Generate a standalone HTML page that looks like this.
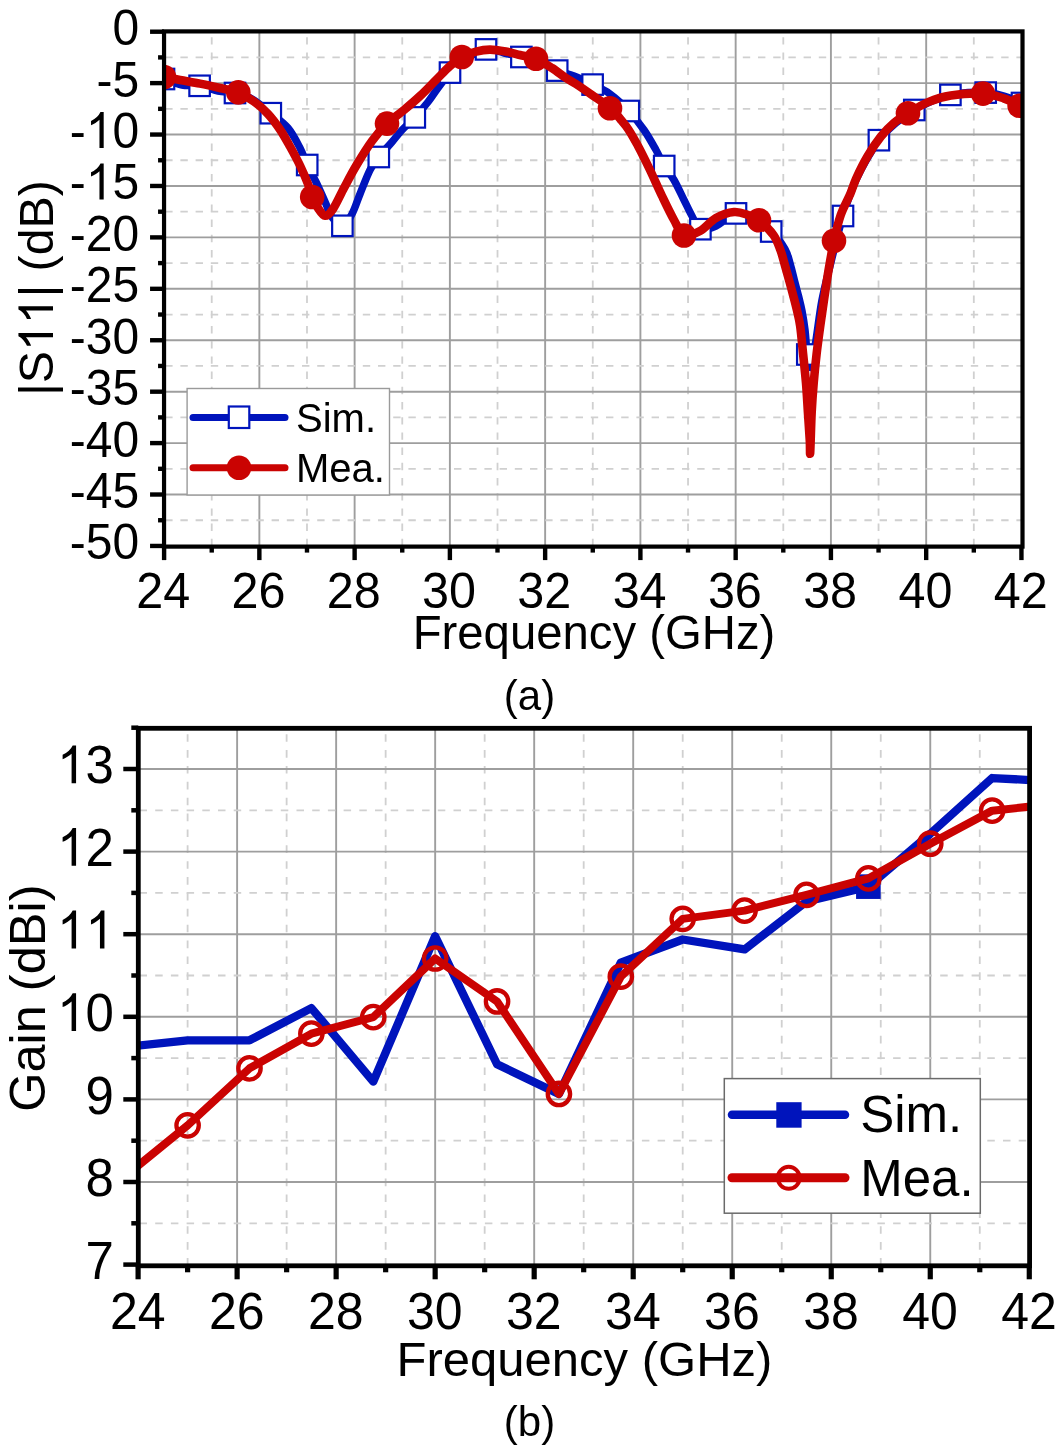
<!DOCTYPE html><html><head><meta charset="utf-8"><style>html,body{margin:0;padding:0;background:#fff;overflow:hidden;}svg{display:block;filter:blur(0.4px);}text{font-family:"Liberation Sans",sans-serif;}</style></head><body>
<svg width="1060" height="1452" viewBox="0 0 1060 1452">
<rect width="1060" height="1452" fill="#fff"/>
<defs><clipPath id="ca"><rect x="164.05" y="31.4" width="858.45" height="515.2"/></clipPath>
<clipPath id="cb"><rect x="138.3" y="728.3" width="891.3" height="537.5"/></clipPath></defs>
<line x1="211.73" y1="31.4" x2="211.73" y2="546.6" stroke="#d0d0d0" stroke-width="1.8" stroke-dasharray="7.4 7.8" stroke-dashoffset="9.4"/><line x1="259.36" y1="31.4" x2="259.36" y2="546.6" stroke="#9e9e9e" stroke-width="1.9"/><line x1="306.99" y1="31.4" x2="306.99" y2="546.6" stroke="#d0d0d0" stroke-width="1.8" stroke-dasharray="7.4 7.8" stroke-dashoffset="9.4"/><line x1="354.62" y1="31.4" x2="354.62" y2="546.6" stroke="#9e9e9e" stroke-width="1.9"/><line x1="402.25" y1="31.4" x2="402.25" y2="546.6" stroke="#d0d0d0" stroke-width="1.8" stroke-dasharray="7.4 7.8" stroke-dashoffset="9.4"/><line x1="449.88" y1="31.4" x2="449.88" y2="546.6" stroke="#9e9e9e" stroke-width="1.9"/><line x1="497.51" y1="31.4" x2="497.51" y2="546.6" stroke="#d0d0d0" stroke-width="1.8" stroke-dasharray="7.4 7.8" stroke-dashoffset="9.4"/><line x1="545.14" y1="31.4" x2="545.14" y2="546.6" stroke="#9e9e9e" stroke-width="1.9"/><line x1="592.77" y1="31.4" x2="592.77" y2="546.6" stroke="#d0d0d0" stroke-width="1.8" stroke-dasharray="7.4 7.8" stroke-dashoffset="9.4"/><line x1="640.4" y1="31.4" x2="640.4" y2="546.6" stroke="#9e9e9e" stroke-width="1.9"/><line x1="688.03" y1="31.4" x2="688.03" y2="546.6" stroke="#d0d0d0" stroke-width="1.8" stroke-dasharray="7.4 7.8" stroke-dashoffset="9.4"/><line x1="735.66" y1="31.4" x2="735.66" y2="546.6" stroke="#9e9e9e" stroke-width="1.9"/><line x1="783.29" y1="31.4" x2="783.29" y2="546.6" stroke="#d0d0d0" stroke-width="1.8" stroke-dasharray="7.4 7.8" stroke-dashoffset="9.4"/><line x1="830.92" y1="31.4" x2="830.92" y2="546.6" stroke="#9e9e9e" stroke-width="1.9"/><line x1="878.55" y1="31.4" x2="878.55" y2="546.6" stroke="#d0d0d0" stroke-width="1.8" stroke-dasharray="7.4 7.8" stroke-dashoffset="9.4"/><line x1="926.18" y1="31.4" x2="926.18" y2="546.6" stroke="#9e9e9e" stroke-width="1.9"/><line x1="973.81" y1="31.4" x2="973.81" y2="546.6" stroke="#d0d0d0" stroke-width="1.8" stroke-dasharray="7.4 7.8" stroke-dashoffset="9.4"/><line x1="164.05" y1="57.41" x2="1022.5" y2="57.41" stroke="#d0d0d0" stroke-width="1.8" stroke-dasharray="7.4 7.8" stroke-dashoffset="14.05"/><line x1="164.05" y1="83.12" x2="1022.5" y2="83.12" stroke="#9e9e9e" stroke-width="1.9"/><line x1="164.05" y1="108.84" x2="1022.5" y2="108.84" stroke="#d0d0d0" stroke-width="1.8" stroke-dasharray="7.4 7.8" stroke-dashoffset="14.05"/><line x1="164.05" y1="134.55" x2="1022.5" y2="134.55" stroke="#9e9e9e" stroke-width="1.9"/><line x1="164.05" y1="160.26" x2="1022.5" y2="160.26" stroke="#d0d0d0" stroke-width="1.8" stroke-dasharray="7.4 7.8" stroke-dashoffset="14.05"/><line x1="164.05" y1="185.97" x2="1022.5" y2="185.97" stroke="#9e9e9e" stroke-width="1.9"/><line x1="164.05" y1="211.69" x2="1022.5" y2="211.69" stroke="#d0d0d0" stroke-width="1.8" stroke-dasharray="7.4 7.8" stroke-dashoffset="14.05"/><line x1="164.05" y1="237.4" x2="1022.5" y2="237.4" stroke="#9e9e9e" stroke-width="1.9"/><line x1="164.05" y1="263.11" x2="1022.5" y2="263.11" stroke="#d0d0d0" stroke-width="1.8" stroke-dasharray="7.4 7.8" stroke-dashoffset="14.05"/><line x1="164.05" y1="288.82" x2="1022.5" y2="288.82" stroke="#9e9e9e" stroke-width="1.9"/><line x1="164.05" y1="314.54" x2="1022.5" y2="314.54" stroke="#d0d0d0" stroke-width="1.8" stroke-dasharray="7.4 7.8" stroke-dashoffset="14.05"/><line x1="164.05" y1="340.25" x2="1022.5" y2="340.25" stroke="#9e9e9e" stroke-width="1.9"/><line x1="164.05" y1="365.96" x2="1022.5" y2="365.96" stroke="#d0d0d0" stroke-width="1.8" stroke-dasharray="7.4 7.8" stroke-dashoffset="14.05"/><line x1="164.05" y1="391.68" x2="1022.5" y2="391.68" stroke="#9e9e9e" stroke-width="1.9"/><line x1="164.05" y1="417.39" x2="1022.5" y2="417.39" stroke="#d0d0d0" stroke-width="1.8" stroke-dasharray="7.4 7.8" stroke-dashoffset="14.05"/><line x1="164.05" y1="443.1" x2="1022.5" y2="443.1" stroke="#9e9e9e" stroke-width="1.9"/><line x1="164.05" y1="468.81" x2="1022.5" y2="468.81" stroke="#d0d0d0" stroke-width="1.8" stroke-dasharray="7.4 7.8" stroke-dashoffset="14.05"/><line x1="164.05" y1="494.52" x2="1022.5" y2="494.52" stroke="#9e9e9e" stroke-width="1.9"/><line x1="164.05" y1="520.24" x2="1022.5" y2="520.24" stroke="#d0d0d0" stroke-width="1.8" stroke-dasharray="7.4 7.8" stroke-dashoffset="14.05"/>
<g clip-path="url(#ca)">
<path d="M150,77.5 C152.33,77.75 158.67,77.75 164,79 C169.33,80.25 176.07,83.87 182,85 C187.93,86.13 193.6,84.8 199.6,85.8 C205.6,86.8 212.1,89.8 218,91 C223.9,92.2 229.33,91.67 235,93 C240.67,94.33 246.03,95.63 252,99 C257.97,102.37 264.8,108.37 270.8,113.2 C276.8,118.03 283.13,122.2 288,128 C292.87,133.8 296.8,141.83 300,148 C303.2,154.17 304.53,159.33 307.2,165 C309.87,170.67 312.87,175.5 316,182 C319.13,188.5 323.5,198.33 326,204 C328.5,209.67 328.27,212.37 331,216 C333.73,219.63 338.9,226.13 342.4,225.8 C345.9,225.47 349.07,219.3 352,214 C354.93,208.7 357,201.33 360,194 C363,186.67 366.87,176.17 370,170 C373.13,163.83 375.13,161.67 378.8,157 C382.47,152.33 388.13,146.5 392,142 C395.87,137.5 398.2,134.1 402,130 C405.8,125.9 410.47,122.07 414.8,117.4 C419.13,112.73 424.13,106.9 428,102 C431.87,97.1 434.33,92.9 438,88 C441.67,83.1 445.67,77.27 450,72.6 C454.33,67.93 458,63.87 464,60 C470,56.13 479.33,50.57 486,49.4 C492.67,48.23 498.1,51.73 504,53 C509.9,54.27 515.4,55.5 521.4,57 C527.4,58.5 534.03,59.73 540,62 C545.97,64.27 551.53,68.27 557.2,70.6 C562.87,72.93 568.1,73.67 574,76 C579.9,78.33 586.6,81.6 592.6,84.6 C598.6,87.6 603.97,89.6 610,94 C616.03,98.4 623.13,105 628.8,111 C634.47,117 639.47,123.5 644,130 C648.53,136.5 652.63,144 656,150 C659.37,156 661.2,161 664.2,166 C667.2,171 670.7,174.33 674,180 C677.3,185.67 681,194 684,200 C687,206 689.27,211.13 692,216 C694.73,220.87 696.4,227.53 700.4,229.2 C704.4,230.87 710.07,228.63 716,226 C721.93,223.37 730,214.4 736,213.4 C742,212.4 746.13,216.98 752,220 C757.87,223.02 765.7,226.67 771.2,231.5 C776.7,236.33 781.78,243.42 785,249 C788.22,254.58 788.92,259.73 790.5,265 C792.08,270.27 793.17,275.43 794.5,280.6 C795.83,285.77 797.25,290.93 798.5,296 C799.75,301.07 800.92,305.33 802,311 C803.08,316.67 804.12,322.75 805,330 C805.88,337.25 806.3,348.33 807.3,354.5 C808.3,360.67 809.55,369.42 811,367 C812.45,364.58 814.17,351.17 816,340 C817.83,328.83 819.5,313 822,300 C824.5,287 827.5,276 831,262 C834.5,248 838.83,229.67 843,216 C847.17,202.33 850.02,192.63 856,180 C861.98,167.37 872.23,149.7 878.9,140.2 C885.57,130.7 890.1,128.03 896,123 C901.9,117.97 908.3,113.67 914.3,110 C920.3,106.33 925.98,103.52 932,101 C938.02,98.48 944.4,96.32 950.4,94.9 C956.4,93.48 962.12,92.88 968,92.5 C973.88,92.12 979.7,92.02 985.7,92.6 C991.7,93.18 997.95,94.27 1004,96 C1010.05,97.73 1016.83,100.67 1022,103 C1027.17,105.33 1032.83,108.83 1035,110" fill="none" stroke="#0014bc" stroke-width="7.5" stroke-linejoin="round"/>
<rect x="153.75" y="68.75" width="20.5" height="20.5" fill="#fff" stroke="#0014bc" stroke-width="2.2"/>
<rect x="189.35" y="75.55" width="20.5" height="20.5" fill="#fff" stroke="#0014bc" stroke-width="2.2"/>
<rect x="224.75" y="82.75" width="20.5" height="20.5" fill="#fff" stroke="#0014bc" stroke-width="2.2"/>
<rect x="260.55" y="102.95" width="20.5" height="20.5" fill="#fff" stroke="#0014bc" stroke-width="2.2"/>
<rect x="296.95" y="154.75" width="20.5" height="20.5" fill="#fff" stroke="#0014bc" stroke-width="2.2"/>
<rect x="332.15" y="215.55" width="20.5" height="20.5" fill="#fff" stroke="#0014bc" stroke-width="2.2"/>
<rect x="368.55" y="146.75" width="20.5" height="20.5" fill="#fff" stroke="#0014bc" stroke-width="2.2"/>
<rect x="404.55" y="107.15" width="20.5" height="20.5" fill="#fff" stroke="#0014bc" stroke-width="2.2"/>
<rect x="439.75" y="62.35" width="20.5" height="20.5" fill="#fff" stroke="#0014bc" stroke-width="2.2"/>
<rect x="475.75" y="39.15" width="20.5" height="20.5" fill="#fff" stroke="#0014bc" stroke-width="2.2"/>
<rect x="511.15" y="46.75" width="20.5" height="20.5" fill="#fff" stroke="#0014bc" stroke-width="2.2"/>
<rect x="546.95" y="60.35" width="20.5" height="20.5" fill="#fff" stroke="#0014bc" stroke-width="2.2"/>
<rect x="582.35" y="74.35" width="20.5" height="20.5" fill="#fff" stroke="#0014bc" stroke-width="2.2"/>
<rect x="618.55" y="100.75" width="20.5" height="20.5" fill="#fff" stroke="#0014bc" stroke-width="2.2"/>
<rect x="653.95" y="155.75" width="20.5" height="20.5" fill="#fff" stroke="#0014bc" stroke-width="2.2"/>
<rect x="690.15" y="218.95" width="20.5" height="20.5" fill="#fff" stroke="#0014bc" stroke-width="2.2"/>
<rect x="725.75" y="203.15" width="20.5" height="20.5" fill="#fff" stroke="#0014bc" stroke-width="2.2"/>
<rect x="760.95" y="221.25" width="20.5" height="20.5" fill="#fff" stroke="#0014bc" stroke-width="2.2"/>
<rect x="797.05" y="344.25" width="20.5" height="20.5" fill="#fff" stroke="#0014bc" stroke-width="2.2"/>
<rect x="832.75" y="205.75" width="20.5" height="20.5" fill="#fff" stroke="#0014bc" stroke-width="2.2"/>
<rect x="868.65" y="129.95" width="20.5" height="20.5" fill="#fff" stroke="#0014bc" stroke-width="2.2"/>
<rect x="904.05" y="99.75" width="20.5" height="20.5" fill="#fff" stroke="#0014bc" stroke-width="2.2"/>
<rect x="940.15" y="84.65" width="20.5" height="20.5" fill="#fff" stroke="#0014bc" stroke-width="2.2"/>
<rect x="975.45" y="82.35" width="20.5" height="20.5" fill="#fff" stroke="#0014bc" stroke-width="2.2"/>
<rect x="1011.75" y="92.75" width="20.5" height="20.5" fill="#fff" stroke="#0014bc" stroke-width="2.2"/>
<path d="M150,74.5 C152.33,74.88 159,75.88 164,76.8 C169,77.72 174,78.87 180,80 C186,81.13 193.33,82.27 200,83.6 C206.67,84.93 213.67,86.53 220,88 C226.33,89.47 232.33,90.15 238,92.4 C243.67,94.65 249,97.9 254,101.5 C259,105.1 263.67,109.33 268,114 C272.33,118.67 276.33,124.08 280,129.5 C283.67,134.92 286.67,140.5 290,146.5 C293.33,152.5 297,159.25 300,165.5 C303,171.75 305.93,178.75 308,184 C310.07,189.25 310.73,193 312.4,197 C314.07,201 315.9,204.87 318,208 C320.1,211.13 322.5,215.63 325,215.8 C327.5,215.97 329.83,213.63 333,209 C336.17,204.37 340.17,195.17 344,188 C347.83,180.83 351.33,173.83 356,166 C360.67,158.17 366.83,148.07 372,141 C377.17,133.93 381.67,128.77 387,123.6 C392.33,118.43 398.5,114.6 404,110 C409.5,105.4 414.67,101 420,96 C425.33,91 431,85 436,80 C441,75 445.67,69.83 450,66 C454.33,62.17 457.67,59.4 462,57 C466.33,54.6 471.33,52.83 476,51.6 C480.67,50.37 485,49.6 490,49.6 C495,49.6 501,50.7 506,51.6 C511,52.5 515,53.77 520,55 C525,56.23 530.67,56.83 536,59 C541.33,61.17 547,64.83 552,68 C557,71.17 562,75.33 566,78 C570,80.67 571.67,81.17 576,84 C580.33,86.83 586.33,91 592,95 C597.67,99 604.33,102.83 610,108 C615.67,113.17 621.33,119.67 626,126 C630.67,132.33 634,138.67 638,146 C642,153.33 646,161.67 650,170 C654,178.33 658,187.67 662,196 C666,204.33 670.33,213.5 674,220 C677.67,226.5 679.67,233.17 684,235 C688.33,236.83 694.67,233.83 700,231 C705.33,228.17 710.33,221.17 716,218 C721.67,214.83 728.67,212.5 734,212 C739.33,211.5 743.83,213.58 748,215 C752.17,216.42 754.73,217.13 759,220.5 C763.27,223.87 770.02,230.23 773.6,235.2 C777.18,240.17 778.6,245.25 780.5,250.3 C782.4,255.35 783.55,260.45 785,265.5 C786.45,270.55 787.82,275.55 789.2,280.6 C790.58,285.65 791.98,290.75 793.3,295.8 C794.62,300.85 795.95,305.85 797.1,310.9 C798.25,315.95 799.2,318.92 800.2,326.1 C801.2,333.28 802.13,344.52 803.1,354 C804.07,363.48 805.2,373.35 806,383 C806.8,392.65 807.27,402.27 807.9,411.9 C808.53,421.53 809.42,434.05 809.8,440.8 C810.18,447.55 809.88,457.22 810.2,452.4 C810.52,447.58 811.12,423.47 811.7,411.9 C812.28,400.33 812.88,392.65 813.7,383 C814.52,373.35 815.48,363.67 816.6,354 C817.72,344.33 819.12,334.33 820.4,325 C821.68,315.67 823.02,306.67 824.3,298 C825.58,289.33 826.5,282.48 828.1,273 C829.7,263.52 831.8,250.75 833.9,241.1 C836,231.45 837.97,222.97 840.7,215.1 C843.43,207.23 847.68,200.08 850.3,193.9 C852.92,187.72 853.5,184.32 856.4,178 C859.3,171.68 863.62,162.92 867.7,156 C871.78,149.08 876.48,142.03 880.9,136.5 C885.32,130.97 889.73,126.65 894.2,122.8 C898.67,118.95 902.05,116.85 907.7,113.4 C913.35,109.95 920.92,105.08 928.1,102.1 C935.28,99.12 941.68,96.92 950.8,95.5 C959.92,94.08 974,93.13 982.8,93.6 C991.6,94.07 997.47,96.27 1003.6,98.3 C1009.73,100.33 1014.37,103.02 1019.6,105.8 C1024.83,108.58 1032.43,113.47 1035,115" fill="none" stroke="#ca0302" stroke-width="8.6" stroke-linejoin="round" stroke-linecap="round"/>
<circle cx="164" cy="77" r="12.3" fill="#ca0302"/>
<circle cx="238.3" cy="92.4" r="12.3" fill="#ca0302"/>
<circle cx="312.2" cy="197" r="12.3" fill="#ca0302"/>
<circle cx="387" cy="123.6" r="12.3" fill="#ca0302"/>
<circle cx="461.8" cy="57" r="12.3" fill="#ca0302"/>
<circle cx="536" cy="58.8" r="12.3" fill="#ca0302"/>
<circle cx="610" cy="108.3" r="12.3" fill="#ca0302"/>
<circle cx="684" cy="235.5" r="12.3" fill="#ca0302"/>
<circle cx="759" cy="220.2" r="12.3" fill="#ca0302"/>
<circle cx="834" cy="240.8" r="12.3" fill="#ca0302"/>
<circle cx="908" cy="113.2" r="12.3" fill="#ca0302"/>
<circle cx="983" cy="93.6" r="12.3" fill="#ca0302"/>
<circle cx="1019.6" cy="105.8" r="12.3" fill="#ca0302"/>
</g>
<rect x="187.1" y="388.5" width="202.4" height="106.5" fill="#fff" stroke="#9a9a9a" stroke-width="1.4"/>
<line x1="193" y1="417.5" x2="285" y2="417.5" stroke="#0014bc" stroke-width="7" stroke-linecap="round"/>
<rect x="228.8" y="406.5" width="20.5" height="21.5" fill="#fff" stroke="#0014bc" stroke-width="2.2"/>
<line x1="193" y1="467.8" x2="285" y2="467.8" stroke="#ca0302" stroke-width="7" stroke-linecap="round"/>
<circle cx="239" cy="467.8" r="12.3" fill="#ca0302"/>
<text x="296" y="431.8" font-family="Liberation Sans, sans-serif" font-size="40" fill="#000">Sim.</text>
<text x="296" y="482.3" font-family="Liberation Sans, sans-serif" font-size="40" fill="#000">Mea.</text>
<rect x="164.05" y="31.4" width="858.45" height="515.2" fill="none" stroke="#000" stroke-width="4.2"/><line x1="150.05" y1="31.7" x2="164.05" y2="31.7" stroke="#000" stroke-width="4.4"/><line x1="158.05" y1="57.41" x2="164.05" y2="57.41" stroke="#000" stroke-width="4.4"/><line x1="150.05" y1="83.12" x2="164.05" y2="83.12" stroke="#000" stroke-width="4.4"/><line x1="158.05" y1="108.84" x2="164.05" y2="108.84" stroke="#000" stroke-width="4.4"/><line x1="150.05" y1="134.55" x2="164.05" y2="134.55" stroke="#000" stroke-width="4.4"/><line x1="158.05" y1="160.26" x2="164.05" y2="160.26" stroke="#000" stroke-width="4.4"/><line x1="150.05" y1="185.97" x2="164.05" y2="185.97" stroke="#000" stroke-width="4.4"/><line x1="158.05" y1="211.69" x2="164.05" y2="211.69" stroke="#000" stroke-width="4.4"/><line x1="150.05" y1="237.4" x2="164.05" y2="237.4" stroke="#000" stroke-width="4.4"/><line x1="158.05" y1="263.11" x2="164.05" y2="263.11" stroke="#000" stroke-width="4.4"/><line x1="150.05" y1="288.82" x2="164.05" y2="288.82" stroke="#000" stroke-width="4.4"/><line x1="158.05" y1="314.54" x2="164.05" y2="314.54" stroke="#000" stroke-width="4.4"/><line x1="150.05" y1="340.25" x2="164.05" y2="340.25" stroke="#000" stroke-width="4.4"/><line x1="158.05" y1="365.96" x2="164.05" y2="365.96" stroke="#000" stroke-width="4.4"/><line x1="150.05" y1="391.68" x2="164.05" y2="391.68" stroke="#000" stroke-width="4.4"/><line x1="158.05" y1="417.39" x2="164.05" y2="417.39" stroke="#000" stroke-width="4.4"/><line x1="150.05" y1="443.1" x2="164.05" y2="443.1" stroke="#000" stroke-width="4.4"/><line x1="158.05" y1="468.81" x2="164.05" y2="468.81" stroke="#000" stroke-width="4.4"/><line x1="150.05" y1="494.52" x2="164.05" y2="494.52" stroke="#000" stroke-width="4.4"/><line x1="158.05" y1="520.24" x2="164.05" y2="520.24" stroke="#000" stroke-width="4.4"/><line x1="150.05" y1="545.95" x2="164.05" y2="545.95" stroke="#000" stroke-width="4.4"/><line x1="164.1" y1="546.6" x2="164.1" y2="560.1" stroke="#000" stroke-width="4.4"/><line x1="211.73" y1="546.6" x2="211.73" y2="552.6" stroke="#000" stroke-width="4.4"/><line x1="259.36" y1="546.6" x2="259.36" y2="560.1" stroke="#000" stroke-width="4.4"/><line x1="306.99" y1="546.6" x2="306.99" y2="552.6" stroke="#000" stroke-width="4.4"/><line x1="354.62" y1="546.6" x2="354.62" y2="560.1" stroke="#000" stroke-width="4.4"/><line x1="402.25" y1="546.6" x2="402.25" y2="552.6" stroke="#000" stroke-width="4.4"/><line x1="449.88" y1="546.6" x2="449.88" y2="560.1" stroke="#000" stroke-width="4.4"/><line x1="497.51" y1="546.6" x2="497.51" y2="552.6" stroke="#000" stroke-width="4.4"/><line x1="545.14" y1="546.6" x2="545.14" y2="560.1" stroke="#000" stroke-width="4.4"/><line x1="592.77" y1="546.6" x2="592.77" y2="552.6" stroke="#000" stroke-width="4.4"/><line x1="640.4" y1="546.6" x2="640.4" y2="560.1" stroke="#000" stroke-width="4.4"/><line x1="688.03" y1="546.6" x2="688.03" y2="552.6" stroke="#000" stroke-width="4.4"/><line x1="735.66" y1="546.6" x2="735.66" y2="560.1" stroke="#000" stroke-width="4.4"/><line x1="783.29" y1="546.6" x2="783.29" y2="552.6" stroke="#000" stroke-width="4.4"/><line x1="830.92" y1="546.6" x2="830.92" y2="560.1" stroke="#000" stroke-width="4.4"/><line x1="878.55" y1="546.6" x2="878.55" y2="552.6" stroke="#000" stroke-width="4.4"/><line x1="926.18" y1="546.6" x2="926.18" y2="560.1" stroke="#000" stroke-width="4.4"/><line x1="973.81" y1="546.6" x2="973.81" y2="552.6" stroke="#000" stroke-width="4.4"/><line x1="1021.44" y1="546.6" x2="1021.44" y2="560.1" stroke="#000" stroke-width="4.4"/>
<g transform="translate(112.5,45.1) scale(1,1.045)"><text x="0" y="0" font-family="Liberation Sans, sans-serif" font-size="48" fill="#000">0</text></g><g transform="translate(96.52,96.53) scale(1,1.045)"><text x="0" y="0" font-family="Liberation Sans, sans-serif" font-size="48" fill="#000">-5</text></g><g transform="translate(69.82,147.95) scale(1,1.045)"><text x="0" y="0" font-family="Liberation Sans, sans-serif" font-size="48" fill="#000">-</text><path transform="translate(15.98,0) scale(48)" d="M0.3726,0 L0.2847,0 L0.2847,-0.5601 Q0.2529,-0.5298 0.2014,-0.4995 Q0.1499,-0.4692 0.1089,-0.4541 L0.1089,-0.5391 Q0.1826,-0.5737 0.2305,-0.6167 Q0.2783,-0.6597 0.3062,-0.7158 L0.3726,-0.7158 Z" fill="#000"/><text x="42.68" y="0" font-family="Liberation Sans, sans-serif" font-size="48" fill="#000">0</text></g><g transform="translate(69.82,199.38) scale(1,1.045)"><text x="0" y="0" font-family="Liberation Sans, sans-serif" font-size="48" fill="#000">-</text><path transform="translate(15.98,0) scale(48)" d="M0.3726,0 L0.2847,0 L0.2847,-0.5601 Q0.2529,-0.5298 0.2014,-0.4995 Q0.1499,-0.4692 0.1089,-0.4541 L0.1089,-0.5391 Q0.1826,-0.5737 0.2305,-0.6167 Q0.2783,-0.6597 0.3062,-0.7158 L0.3726,-0.7158 Z" fill="#000"/><text x="42.68" y="0" font-family="Liberation Sans, sans-serif" font-size="48" fill="#000">5</text></g><g transform="translate(69.82,250.8) scale(1,1.045)"><text x="0" y="0" font-family="Liberation Sans, sans-serif" font-size="48" fill="#000">-20</text></g><g transform="translate(69.82,302.22) scale(1,1.045)"><text x="0" y="0" font-family="Liberation Sans, sans-serif" font-size="48" fill="#000">-25</text></g><g transform="translate(69.82,353.65) scale(1,1.045)"><text x="0" y="0" font-family="Liberation Sans, sans-serif" font-size="48" fill="#000">-30</text></g><g transform="translate(69.82,405.07) scale(1,1.045)"><text x="0" y="0" font-family="Liberation Sans, sans-serif" font-size="48" fill="#000">-35</text></g><g transform="translate(69.82,456.5) scale(1,1.045)"><text x="0" y="0" font-family="Liberation Sans, sans-serif" font-size="48" fill="#000">-40</text></g><g transform="translate(69.82,507.92) scale(1,1.045)"><text x="0" y="0" font-family="Liberation Sans, sans-serif" font-size="48" fill="#000">-45</text></g><g transform="translate(69.82,559.35) scale(1,1.045)"><text x="0" y="0" font-family="Liberation Sans, sans-serif" font-size="48" fill="#000">-50</text></g><g transform="translate(136.33,607.6) scale(1,1.045)"><text x="0" y="0" font-family="Liberation Sans, sans-serif" font-size="48.5" fill="#000">24</text></g><g transform="translate(231.59,607.6) scale(1,1.045)"><text x="0" y="0" font-family="Liberation Sans, sans-serif" font-size="48.5" fill="#000">26</text></g><g transform="translate(326.85,607.6) scale(1,1.045)"><text x="0" y="0" font-family="Liberation Sans, sans-serif" font-size="48.5" fill="#000">28</text></g><g transform="translate(422.11,607.6) scale(1,1.045)"><text x="0" y="0" font-family="Liberation Sans, sans-serif" font-size="48.5" fill="#000">30</text></g><g transform="translate(517.37,607.6) scale(1,1.045)"><text x="0" y="0" font-family="Liberation Sans, sans-serif" font-size="48.5" fill="#000">32</text></g><g transform="translate(612.63,607.6) scale(1,1.045)"><text x="0" y="0" font-family="Liberation Sans, sans-serif" font-size="48.5" fill="#000">34</text></g><g transform="translate(707.89,607.6) scale(1,1.045)"><text x="0" y="0" font-family="Liberation Sans, sans-serif" font-size="48.5" fill="#000">36</text></g><g transform="translate(803.15,607.6) scale(1,1.045)"><text x="0" y="0" font-family="Liberation Sans, sans-serif" font-size="48.5" fill="#000">38</text></g><g transform="translate(898.41,607.6) scale(1,1.045)"><text x="0" y="0" font-family="Liberation Sans, sans-serif" font-size="48.5" fill="#000">40</text></g><g transform="translate(993.67,607.6) scale(1,1.045)"><text x="0" y="0" font-family="Liberation Sans, sans-serif" font-size="48.5" fill="#000">42</text></g>
<text x="594" y="649.2" font-family="Liberation Sans, sans-serif" font-size="47.3" text-anchor="middle" fill="#000">Frequency (GHz)</text>
<g transform="translate(53,288) rotate(-90)"><text x="-107.85" y="0" font-family="Liberation Sans, sans-serif" font-size="48.3" fill="#000">|S&#8199;&#8199;| (dB)</text><path transform="translate(-63.09,0) scale(48.3)" d="M0.3726,0 L0.2847,0 L0.2847,-0.5601 Q0.2529,-0.5298 0.2014,-0.4995 Q0.1499,-0.4692 0.1089,-0.4541 L0.1089,-0.5391 Q0.1826,-0.5737 0.2305,-0.6167 Q0.2783,-0.6597 0.3062,-0.7158 L0.3726,-0.7158 Z" fill="#000"/><path transform="translate(-36.22,0) scale(48.3)" d="M0.3726,0 L0.2847,0 L0.2847,-0.5601 Q0.2529,-0.5298 0.2014,-0.4995 Q0.1499,-0.4692 0.1089,-0.4541 L0.1089,-0.5391 Q0.1826,-0.5737 0.2305,-0.6167 Q0.2783,-0.6597 0.3062,-0.7158 L0.3726,-0.7158 Z" fill="#000"/></g>
<text x="529.5" y="709.5" font-family="Liberation Sans, sans-serif" font-size="42" text-anchor="middle" fill="#000">(a)</text>
<line x1="187.61" y1="728.3" x2="187.61" y2="1265.8" stroke="#d0d0d0" stroke-width="1.8" stroke-dasharray="7.6 8.27" stroke-dashoffset="9.92"/><line x1="237.12" y1="728.3" x2="237.12" y2="1265.8" stroke="#9e9e9e" stroke-width="1.9"/><line x1="286.63" y1="728.3" x2="286.63" y2="1265.8" stroke="#d0d0d0" stroke-width="1.8" stroke-dasharray="7.6 8.27" stroke-dashoffset="9.92"/><line x1="336.14" y1="728.3" x2="336.14" y2="1265.8" stroke="#9e9e9e" stroke-width="1.9"/><line x1="385.65" y1="728.3" x2="385.65" y2="1265.8" stroke="#d0d0d0" stroke-width="1.8" stroke-dasharray="7.6 8.27" stroke-dashoffset="9.92"/><line x1="435.16" y1="728.3" x2="435.16" y2="1265.8" stroke="#9e9e9e" stroke-width="1.9"/><line x1="484.67" y1="728.3" x2="484.67" y2="1265.8" stroke="#d0d0d0" stroke-width="1.8" stroke-dasharray="7.6 8.27" stroke-dashoffset="9.92"/><line x1="534.18" y1="728.3" x2="534.18" y2="1265.8" stroke="#9e9e9e" stroke-width="1.9"/><line x1="583.69" y1="728.3" x2="583.69" y2="1265.8" stroke="#d0d0d0" stroke-width="1.8" stroke-dasharray="7.6 8.27" stroke-dashoffset="9.92"/><line x1="633.2" y1="728.3" x2="633.2" y2="1265.8" stroke="#9e9e9e" stroke-width="1.9"/><line x1="682.71" y1="728.3" x2="682.71" y2="1265.8" stroke="#d0d0d0" stroke-width="1.8" stroke-dasharray="7.6 8.27" stroke-dashoffset="9.92"/><line x1="732.22" y1="728.3" x2="732.22" y2="1265.8" stroke="#9e9e9e" stroke-width="1.9"/><line x1="781.73" y1="728.3" x2="781.73" y2="1265.8" stroke="#d0d0d0" stroke-width="1.8" stroke-dasharray="7.6 8.27" stroke-dashoffset="9.92"/><line x1="831.24" y1="728.3" x2="831.24" y2="1265.8" stroke="#9e9e9e" stroke-width="1.9"/><line x1="880.75" y1="728.3" x2="880.75" y2="1265.8" stroke="#d0d0d0" stroke-width="1.8" stroke-dasharray="7.6 8.27" stroke-dashoffset="9.92"/><line x1="930.26" y1="728.3" x2="930.26" y2="1265.8" stroke="#9e9e9e" stroke-width="1.9"/><line x1="979.77" y1="728.3" x2="979.77" y2="1265.8" stroke="#d0d0d0" stroke-width="1.8" stroke-dasharray="7.6 8.27" stroke-dashoffset="9.92"/><line x1="138.3" y1="1223.3" x2="1029.6" y2="1223.3" stroke="#d0d0d0" stroke-width="1.8" stroke-dasharray="7.5 8.2" stroke-dashoffset="14.5"/><line x1="138.3" y1="1182" x2="1029.6" y2="1182" stroke="#9e9e9e" stroke-width="1.9"/><line x1="138.3" y1="1140.7" x2="1029.6" y2="1140.7" stroke="#d0d0d0" stroke-width="1.8" stroke-dasharray="7.5 8.2" stroke-dashoffset="14.5"/><line x1="138.3" y1="1099.4" x2="1029.6" y2="1099.4" stroke="#9e9e9e" stroke-width="1.9"/><line x1="138.3" y1="1058.1" x2="1029.6" y2="1058.1" stroke="#d0d0d0" stroke-width="1.8" stroke-dasharray="7.5 8.2" stroke-dashoffset="14.5"/><line x1="138.3" y1="1016.8" x2="1029.6" y2="1016.8" stroke="#9e9e9e" stroke-width="1.9"/><line x1="138.3" y1="975.5" x2="1029.6" y2="975.5" stroke="#d0d0d0" stroke-width="1.8" stroke-dasharray="7.5 8.2" stroke-dashoffset="14.5"/><line x1="138.3" y1="934.2" x2="1029.6" y2="934.2" stroke="#9e9e9e" stroke-width="1.9"/><line x1="138.3" y1="892.9" x2="1029.6" y2="892.9" stroke="#d0d0d0" stroke-width="1.8" stroke-dasharray="7.5 8.2" stroke-dashoffset="14.5"/><line x1="138.3" y1="851.6" x2="1029.6" y2="851.6" stroke="#9e9e9e" stroke-width="1.9"/><line x1="138.3" y1="810.3" x2="1029.6" y2="810.3" stroke="#d0d0d0" stroke-width="1.8" stroke-dasharray="7.5 8.2" stroke-dashoffset="14.5"/><line x1="138.3" y1="769" x2="1029.6" y2="769" stroke="#9e9e9e" stroke-width="1.9"/>
<g clip-path="url(#cb)">
<path d="M125.72,1046.88 L187.61,1040.28 L249.5,1040.28 L311.38,1008.06 L373.27,1081.58 L435.16,936.2 L497.05,1064.23 L558.93,1093.97 L620.82,962.63 L682.71,939.5 L744.6,949.42 L806.49,901.51 L868.37,886.64 L930.26,833.78 L992.15,778.02 L1054.03,781.33" fill="none" stroke="#0014bc" stroke-width="8.3" stroke-linejoin="round"/>
<rect x="856.07" y="874.34" width="24.6" height="24.6" fill="#0014bc"/>
<path d="M125.72,1175.74 L187.61,1125.35 L249.5,1068.36 L311.38,1033.67 L373.27,1017.15 L435.16,958.5 L497.05,1001.45 L558.93,1093.97 L620.82,976.67 L682.71,918.85 L744.6,910.59 L806.49,894.9 L868.37,878.38 L930.26,843.69 L992.15,810.65 L1054.03,804.04" fill="none" stroke="#ca0302" stroke-width="8" stroke-linejoin="round"/>
<circle cx="187.61" cy="1125.35" r="11.2" fill="none" stroke="#ca0302" stroke-width="4.3"/>
<circle cx="249.5" cy="1068.36" r="11.2" fill="none" stroke="#ca0302" stroke-width="4.3"/>
<circle cx="311.38" cy="1033.67" r="11.2" fill="none" stroke="#ca0302" stroke-width="4.3"/>
<circle cx="373.27" cy="1017.15" r="11.2" fill="none" stroke="#ca0302" stroke-width="4.3"/>
<circle cx="435.16" cy="958.5" r="11.2" fill="none" stroke="#ca0302" stroke-width="4.3"/>
<circle cx="497.05" cy="1001.45" r="11.2" fill="none" stroke="#ca0302" stroke-width="4.3"/>
<circle cx="558.93" cy="1093.97" r="11.2" fill="none" stroke="#ca0302" stroke-width="4.3"/>
<circle cx="620.82" cy="976.67" r="11.2" fill="none" stroke="#ca0302" stroke-width="4.3"/>
<circle cx="682.71" cy="918.85" r="11.2" fill="none" stroke="#ca0302" stroke-width="4.3"/>
<circle cx="744.6" cy="910.59" r="11.2" fill="none" stroke="#ca0302" stroke-width="4.3"/>
<circle cx="806.49" cy="894.9" r="11.2" fill="none" stroke="#ca0302" stroke-width="4.3"/>
<circle cx="868.37" cy="878.38" r="11.2" fill="none" stroke="#ca0302" stroke-width="4.3"/>
<circle cx="930.26" cy="843.69" r="11.2" fill="none" stroke="#ca0302" stroke-width="4.3"/>
<circle cx="992.15" cy="810.65" r="11.2" fill="none" stroke="#ca0302" stroke-width="4.3"/>
</g>
<rect x="724.3" y="1078.6" width="256" height="134.6" fill="#fff" stroke="#6a6a6a" stroke-width="1.5"/>
<line x1="732" y1="1114.7" x2="845" y2="1114.7" stroke="#0014bc" stroke-width="8.5" stroke-linecap="round"/>
<rect x="776.3" y="1102.2" width="25.3" height="25.5" fill="#0014bc"/>
<line x1="732" y1="1177.8" x2="845" y2="1177.8" stroke="#ca0302" stroke-width="9" stroke-linecap="round"/>
<circle cx="788.7" cy="1177.8" r="11" fill="none" stroke="#ca0302" stroke-width="3.9"/>
<text x="860.2" y="1132.4" font-family="Liberation Sans, sans-serif" font-size="51" fill="#000">Sim.</text>
<text x="860.2" y="1196.4" font-family="Liberation Sans, sans-serif" font-size="51" fill="#000">Mea.</text>
<rect x="138.3" y="728.3" width="891.3" height="537.5" fill="none" stroke="#000" stroke-width="4.8"/><line x1="123.3" y1="1264.6" x2="138.3" y2="1264.6" stroke="#000" stroke-width="4.5"/><line x1="131.3" y1="1223.3" x2="138.3" y2="1223.3" stroke="#000" stroke-width="4.5"/><line x1="123.3" y1="1182" x2="138.3" y2="1182" stroke="#000" stroke-width="4.5"/><line x1="131.3" y1="1140.7" x2="138.3" y2="1140.7" stroke="#000" stroke-width="4.5"/><line x1="123.3" y1="1099.4" x2="138.3" y2="1099.4" stroke="#000" stroke-width="4.5"/><line x1="131.3" y1="1058.1" x2="138.3" y2="1058.1" stroke="#000" stroke-width="4.5"/><line x1="123.3" y1="1016.8" x2="138.3" y2="1016.8" stroke="#000" stroke-width="4.5"/><line x1="131.3" y1="975.5" x2="138.3" y2="975.5" stroke="#000" stroke-width="4.5"/><line x1="123.3" y1="934.2" x2="138.3" y2="934.2" stroke="#000" stroke-width="4.5"/><line x1="131.3" y1="892.9" x2="138.3" y2="892.9" stroke="#000" stroke-width="4.5"/><line x1="123.3" y1="851.6" x2="138.3" y2="851.6" stroke="#000" stroke-width="4.5"/><line x1="131.3" y1="810.3" x2="138.3" y2="810.3" stroke="#000" stroke-width="4.5"/><line x1="123.3" y1="769" x2="138.3" y2="769" stroke="#000" stroke-width="4.5"/><line x1="131.3" y1="727.7" x2="138.3" y2="727.7" stroke="#000" stroke-width="4.5"/><line x1="138.1" y1="1265.8" x2="138.1" y2="1279.3" stroke="#000" stroke-width="5.2"/><line x1="187.61" y1="1265.8" x2="187.61" y2="1272.3" stroke="#000" stroke-width="5.2"/><line x1="237.12" y1="1265.8" x2="237.12" y2="1279.3" stroke="#000" stroke-width="5.2"/><line x1="286.63" y1="1265.8" x2="286.63" y2="1272.3" stroke="#000" stroke-width="5.2"/><line x1="336.14" y1="1265.8" x2="336.14" y2="1279.3" stroke="#000" stroke-width="5.2"/><line x1="385.65" y1="1265.8" x2="385.65" y2="1272.3" stroke="#000" stroke-width="5.2"/><line x1="435.16" y1="1265.8" x2="435.16" y2="1279.3" stroke="#000" stroke-width="5.2"/><line x1="484.67" y1="1265.8" x2="484.67" y2="1272.3" stroke="#000" stroke-width="5.2"/><line x1="534.18" y1="1265.8" x2="534.18" y2="1279.3" stroke="#000" stroke-width="5.2"/><line x1="583.69" y1="1265.8" x2="583.69" y2="1272.3" stroke="#000" stroke-width="5.2"/><line x1="633.2" y1="1265.8" x2="633.2" y2="1279.3" stroke="#000" stroke-width="5.2"/><line x1="682.71" y1="1265.8" x2="682.71" y2="1272.3" stroke="#000" stroke-width="5.2"/><line x1="732.22" y1="1265.8" x2="732.22" y2="1279.3" stroke="#000" stroke-width="5.2"/><line x1="781.73" y1="1265.8" x2="781.73" y2="1272.3" stroke="#000" stroke-width="5.2"/><line x1="831.24" y1="1265.8" x2="831.24" y2="1279.3" stroke="#000" stroke-width="5.2"/><line x1="880.75" y1="1265.8" x2="880.75" y2="1272.3" stroke="#000" stroke-width="5.2"/><line x1="930.26" y1="1265.8" x2="930.26" y2="1279.3" stroke="#000" stroke-width="5.2"/><line x1="979.77" y1="1265.8" x2="979.77" y2="1272.3" stroke="#000" stroke-width="5.2"/><line x1="1029.28" y1="1265.8" x2="1029.28" y2="1279.3" stroke="#000" stroke-width="5.2"/>
<g transform="translate(85.44,1278.8) scale(1,1.035)"><text x="0" y="0" font-family="Liberation Sans, sans-serif" font-size="51" fill="#000">7</text></g><g transform="translate(85.44,1196.2) scale(1,1.035)"><text x="0" y="0" font-family="Liberation Sans, sans-serif" font-size="51" fill="#000">8</text></g><g transform="translate(85.44,1113.6) scale(1,1.035)"><text x="0" y="0" font-family="Liberation Sans, sans-serif" font-size="51" fill="#000">9</text></g><g transform="translate(57.07,1031) scale(1,1.035)"><path transform="translate(0,0) scale(51)" d="M0.3726,0 L0.2847,0 L0.2847,-0.5601 Q0.2529,-0.5298 0.2014,-0.4995 Q0.1499,-0.4692 0.1089,-0.4541 L0.1089,-0.5391 Q0.1826,-0.5737 0.2305,-0.6167 Q0.2783,-0.6597 0.3062,-0.7158 L0.3726,-0.7158 Z" fill="#000"/><text x="28.36" y="0" font-family="Liberation Sans, sans-serif" font-size="51" fill="#000">0</text></g><g transform="translate(57.07,948.4) scale(1,1.035)"><path transform="translate(0,0) scale(51)" d="M0.3726,0 L0.2847,0 L0.2847,-0.5601 Q0.2529,-0.5298 0.2014,-0.4995 Q0.1499,-0.4692 0.1089,-0.4541 L0.1089,-0.5391 Q0.1826,-0.5737 0.2305,-0.6167 Q0.2783,-0.6597 0.3062,-0.7158 L0.3726,-0.7158 Z" fill="#000"/><path transform="translate(28.36,0) scale(51)" d="M0.3726,0 L0.2847,0 L0.2847,-0.5601 Q0.2529,-0.5298 0.2014,-0.4995 Q0.1499,-0.4692 0.1089,-0.4541 L0.1089,-0.5391 Q0.1826,-0.5737 0.2305,-0.6167 Q0.2783,-0.6597 0.3062,-0.7158 L0.3726,-0.7158 Z" fill="#000"/></g><g transform="translate(57.07,865.8) scale(1,1.035)"><path transform="translate(0,0) scale(51)" d="M0.3726,0 L0.2847,0 L0.2847,-0.5601 Q0.2529,-0.5298 0.2014,-0.4995 Q0.1499,-0.4692 0.1089,-0.4541 L0.1089,-0.5391 Q0.1826,-0.5737 0.2305,-0.6167 Q0.2783,-0.6597 0.3062,-0.7158 L0.3726,-0.7158 Z" fill="#000"/><text x="28.36" y="0" font-family="Liberation Sans, sans-serif" font-size="51" fill="#000">2</text></g><g transform="translate(57.07,783.2) scale(1,1.035)"><path transform="translate(0,0) scale(51)" d="M0.3726,0 L0.2847,0 L0.2847,-0.5601 Q0.2529,-0.5298 0.2014,-0.4995 Q0.1499,-0.4692 0.1089,-0.4541 L0.1089,-0.5391 Q0.1826,-0.5737 0.2305,-0.6167 Q0.2783,-0.6597 0.3062,-0.7158 L0.3726,-0.7158 Z" fill="#000"/><text x="28.36" y="0" font-family="Liberation Sans, sans-serif" font-size="51" fill="#000">3</text></g><g transform="translate(109.99,1329.3) scale(1,1.045)"><text x="0" y="0" font-family="Liberation Sans, sans-serif" font-size="50" fill="#000">24</text></g><g transform="translate(209.01,1329.3) scale(1,1.045)"><text x="0" y="0" font-family="Liberation Sans, sans-serif" font-size="50" fill="#000">26</text></g><g transform="translate(308.03,1329.3) scale(1,1.045)"><text x="0" y="0" font-family="Liberation Sans, sans-serif" font-size="50" fill="#000">28</text></g><g transform="translate(407.05,1329.3) scale(1,1.045)"><text x="0" y="0" font-family="Liberation Sans, sans-serif" font-size="50" fill="#000">30</text></g><g transform="translate(506.07,1329.3) scale(1,1.045)"><text x="0" y="0" font-family="Liberation Sans, sans-serif" font-size="50" fill="#000">32</text></g><g transform="translate(605.09,1329.3) scale(1,1.045)"><text x="0" y="0" font-family="Liberation Sans, sans-serif" font-size="50" fill="#000">34</text></g><g transform="translate(704.11,1329.3) scale(1,1.045)"><text x="0" y="0" font-family="Liberation Sans, sans-serif" font-size="50" fill="#000">36</text></g><g transform="translate(803.13,1329.3) scale(1,1.045)"><text x="0" y="0" font-family="Liberation Sans, sans-serif" font-size="50" fill="#000">38</text></g><g transform="translate(902.15,1329.3) scale(1,1.045)"><text x="0" y="0" font-family="Liberation Sans, sans-serif" font-size="50" fill="#000">40</text></g><g transform="translate(1001.17,1329.3) scale(1,1.045)"><text x="0" y="0" font-family="Liberation Sans, sans-serif" font-size="50" fill="#000">42</text></g>
<text x="584.5" y="1376" font-family="Liberation Sans, sans-serif" font-size="49" text-anchor="middle" fill="#000">Frequency (GHz)</text>
<text transform="translate(45.4,998.2) rotate(-90)" font-family="Liberation Sans, sans-serif" font-size="50.5" text-anchor="middle" fill="#000">Gain (dBi)</text>
<text x="529.5" y="1436" font-family="Liberation Sans, sans-serif" font-size="42" text-anchor="middle" fill="#000">(b)</text>
</svg></body></html>
